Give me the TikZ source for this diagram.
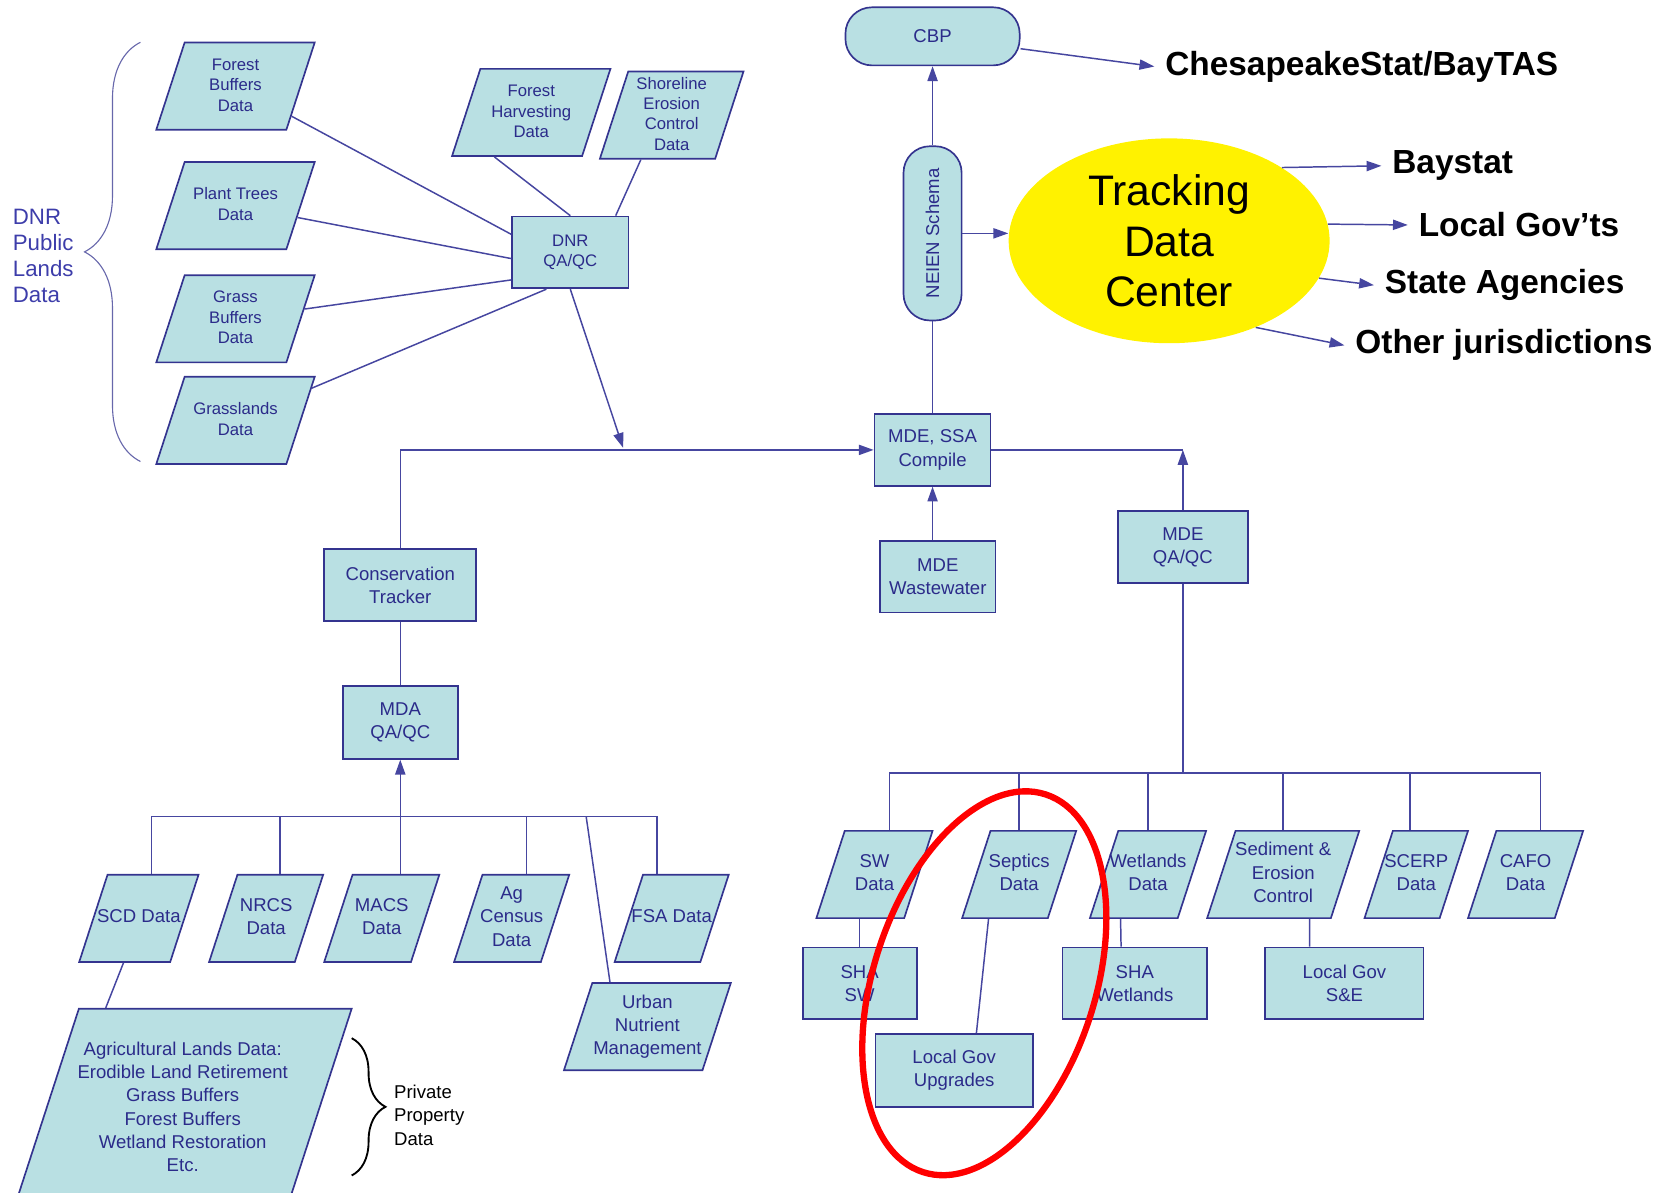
\documentclass[tikz,border=0pt]{standalone}
\usepackage{fontspec}
\setmainfont{Liberation Sans}
\usepackage{graphicx}
\usepackage{xcolor}
\usetikzlibrary{shapes.geometric, arrows.meta, positioning, calc, decorations.pathreplacing}

\definecolor{boxfill}{HTML}{B9E0E3}
\definecolor{boxline}{HTML}{34348F}
\definecolor{boxtext}{HTML}{2B2B8A}
\definecolor{linkcol}{HTML}{4646A0}
\definecolor{dnrblue}{HTML}{3D3DAA}

% fixed-height body for the parallelograms
\newcommand{\partext}[2][47pt]{\begin{tabular}{@{}c@{}}#2\end{tabular}\rule[\dimexpr2.5pt-#1/2\relax]{0pt}{#1}}

\begin{document}
\begin{tikzpicture}[
    x=0.02cm, y=-0.02cm,
    datapar/.style={trapezium, trapezium left angle=72, trapezium right angle=108, trapezium stretches body, draw=boxline, fill=boxfill, line width=0.9pt, text=boxtext, inner xsep=-13pt, inner ysep=0pt, font=\fontsize{10}{12.5}\selectfont},
    smallpar/.style={datapar, minimum width=3cm, font=\fontsize{9}{11}\selectfont},
    procbox/.style={rectangle, draw=boxline, fill=boxfill, line width=0.9pt, text=boxtext, align=center, inner sep=1pt, minimum height=1.36cm, font=\fontsize{10}{12.5}\selectfont},
    pill/.style={procbox, rounded corners=0.5cm},
    outlabel/.style={anchor=west, inner sep=0.2cm, font=\bfseries\fontsize{18}{20}\selectfont},
    link/.style={draw=linkcol, line width=0.8pt},
    arrow/.style={link, -{Triangle[length=8pt, width=5.5pt]}}
]
\useasboundingbox (0,0) rectangle (1568,1129);
\clip (0,0) rectangle (1568,1129);

% DNR public lands
\node[smallpar] (fb) at (223,81.5) {\partext{Forest\\Buffers\\Data}};
\node[smallpar, below=0.58cm of fb] (pt) {\partext{Plant Trees\\Data}};
\node[smallpar, below=0.46cm of pt] (gb) {\partext{Grass\\Buffers\\Data}};
\node[smallpar, below=0.24cm of gb] (gl) {\partext{Grasslands\\Data}};
\node[smallpar] (fh) at (503,106.5) {\partext{Forest\\Harvesting\\Data}};
\node[smallpar, minimum width=2.72cm] (sh) at (636,109) {\partext{Shoreline\\Erosion\\Control\\Data}};
\node[procbox, minimum width=2.2cm, font=\fontsize{9}{11}\selectfont] (dnr) at (540,239) {DNR\\QA/QC};
\node[anchor=west, align=left, text=dnrblue, font=\fontsize{12}{14}\selectfont] (dnrlbl) at (6,242) {DNR\\Public\\Lands\\Data};
\draw[decorate, decoration={brace, amplitude=1.06cm}, draw=boxline!75, line width=0.6pt] (133,437) -- (133,40);

% Agricultural lands
\node[procbox, minimum width=2.88cm] (cons) at (379,554) {Conservation\\Tracker};
\node[procbox, minimum width=2.18cm, minimum height=1.38cm, below=1.2cm of cons] (mda) {MDA\\QA/QC};
\node[datapar, minimum width=2.26cm] (scd) at (131.5,869.5) {\partext{SCD Data}};
\node[datapar, minimum width=2.16cm] (nrcs) at (252,869.5) {\partext{NRCS\\Data}};
\node[datapar, minimum width=2.18cm] (macs) at (361.5,869.5) {\partext{MACS\\Data}};
\node[datapar, minimum width=2.18cm] (agc) at (484.5,869.5) {\partext{Ag\\Census\\Data}};
\node[datapar, minimum width=2.16cm] (fsa) at (636,869.5) {\partext{FSA Data}};
\node[datapar, minimum width=3.16cm] (urban) at (613,972) {\partext{Urban\\Nutrient\\Management}};
\node[datapar, minimum width=6.4cm] (ag) at (173,1050) {\partext[108pt]{Agricultural Lands Data:\\Erodible Land Retirement\\Grass Buffers\\Forest Buffers\\Wetland Restoration\\Etc.}};
\node[anchor=west, align=left, font=\fontsize{10}{12.5}\selectfont] (priv) at (367,1056) {Private\\Property\\Data};
\draw[decorate, decoration={brace, amplitude=0.64cm}, line width=1pt] (333,983) -- (333,1113);

% MDE
\node[procbox, minimum width=2.2cm] (mdessa) at (883,426) {MDE, SSA\\Compile};
\node[procbox, minimum width=2.18cm] (mdeww) at (888,546) {MDE\\Wastewater};
\node[procbox, minimum width=2.46cm] (mdeqa) at (1120,518) {MDE\\QA/QC};
\node[pill, minimum width=1.1cm, minimum height=3.3cm, above=1.74cm of mdessa] (neien) {\rotatebox{90}{NEIEN Schema}};
\node[pill, minimum width=3.3cm, minimum height=1.1cm, above=1.5cm of neien] (cbp) {CBP};

\node[datapar, minimum width=2.2cm] (sw) at (828,828) {\partext{SW\\Data}};
\node[datapar, minimum width=2.16cm] (sep) at (965,828) {\partext{Septics\\Data}};
\node[datapar, minimum width=2.2cm] (wet) at (1087,828) {\partext{Wetlands\\Data}};
\node[datapar, minimum width=2.88cm] (sed) at (1215,828) {\partext{Sediment \&\\Erosion\\Control}};
\node[datapar, minimum width=1.96cm] (scerp) at (1341,828) {\partext{SCERP\\Data}};
\node[datapar, minimum width=2.18cm] (cafo) at (1444.5,828) {\partext{CAFO\\Data}};
\node[procbox, minimum width=2.16cm] (shasw) at (814,931) {SHA\\SW};
\node[procbox, minimum width=2.74cm] (shawet) at (1074.5,931) {SHA\\Wetlands};
\node[procbox, minimum width=3cm] (lgse) at (1273,931) {Local Gov\\S\&E};
\node[procbox, minimum width=2.98cm, minimum height=1.38cm] (lgup) at (903.5,1013.5) {Local Gov\\Upgrades};

% Tracking data center and users
\node[ellipse, fill=yellow, minimum width=6.08cm, minimum height=3.88cm, inner sep=0pt, align=center, font=\fontsize{23}{27}\selectfont] (tdc) at (1107,228) {Tracking\\Data\\Center};
\node[outlabel] (chesa) at (1093,63) {ChesapeakeStat/BayTAS};
\node[outlabel] (bay) at (1308,157) {Baystat};
\node[outlabel] (lgov) at (1333,213) {Local Gov’ts};
\node[outlabel] (state) at (1301,270) {State Agencies};
\node[outlabel] (other) at (1273,327) {Other jurisdictions};

% Connectors
\coordinate (dnrin) at (590,424);
\coordinate (agbus) at (377,773);
\coordinate (urbbus) at (555,773);
\coordinate (mdebus) at (1120,732);

\draw[link] (fb) -- (dnr.163);
\draw[link] (pt) -- (dnr.186);
\draw[link] (gb) -- (dnr.205);
\draw[link] (gl) -- (dnr.237);
\draw[link] ($(fh.bottom left corner)!0.33!(fh.bottom right corner)$) -- (dnr.north);
\draw[link] ($(sh.bottom left corner)!0.36!(sh.bottom right corner)$) -- (dnr.39);
\draw[arrow] (dnr.south) -- (dnrin);

\draw[arrow] (cons.north) |- (mdessa.west);
\draw[link] (cons.south) -- (cons.south |- mda.north);
\draw[link] ($(scd.north)+(12,0)$) |- (agbus) -| ($(fsa.north)+(-14,0)$);
\draw[link] ($(nrcs.north)+(13,0)$) |- (agbus);
\draw[link] ($(agc.north)+(14,0)$) |- (agbus);
\draw[arrow] (mda.south |- macs.north) -- (mda.south);
\draw[link] (urbbus) -- ($(urban.top left corner)!0.13!(urban.top right corner)$);
\draw[link] ($(scd.bottom left corner)!0.49!(scd.bottom right corner)$) -- ($(ag.top left corner)!0.1!(ag.top right corner)$);

\draw[arrow] (mdessa.south |- mdeww.north) -- (mdessa.south);
\draw[link] (mdessa.north) -- (neien.south);
\draw[arrow] (neien.north) -- (cbp.south);
\draw[arrow] (neien.east) -- (neien.east -| tdc.west);
\draw[arrow] (mdeqa.north) -- (mdeqa.north |- mdessa.east);
\draw[link] (mdessa.east) -- (mdeqa.north |- mdessa.east);

\draw[link] (mdeqa.south) -- (mdebus);
\draw[link] ($(sw.north)+(14,0)$) |- (mdebus) -| ($(cafo.north)+(14,0)$);
\draw[link] (sep.north) |- (mdebus);
\draw[link] (wet.north) |- (mdebus);
\draw[link] (sed.north) |- (mdebus);
\draw[link] ($(scerp.north)+(-6,0)$) |- (mdebus);
\draw[link] (shasw.north) -- (shasw.north |- sw.south);
\draw[link] ($(wet.south)+(-26,0)$) -- ($(shawet.north)+(-13,0)$);
\draw[link] ($(sed.south)+(25,0)$) -- ($(lgse.north)+(-33,0)$);
\draw[link] ($(sep.south)+(-29,0)$) -- ($(lgup.north)+(21,0)$);

\draw[arrow] (cbp.-8) -- (chesa.west);
\draw[arrow] (tdc.33) -- (bay.west);
\draw[arrow] (tdc.6) -- (lgov.west);
\draw[arrow] (tdc.-14) -- (state.west);
\draw[arrow] (tdc.-45) -- (other.west);

% Highlight
\draw[red, line width=3.4pt, rotate around={-18:(932,931)}] (932,931) ellipse [x radius=105, y radius=188];

\end{tikzpicture}
\end{document}
